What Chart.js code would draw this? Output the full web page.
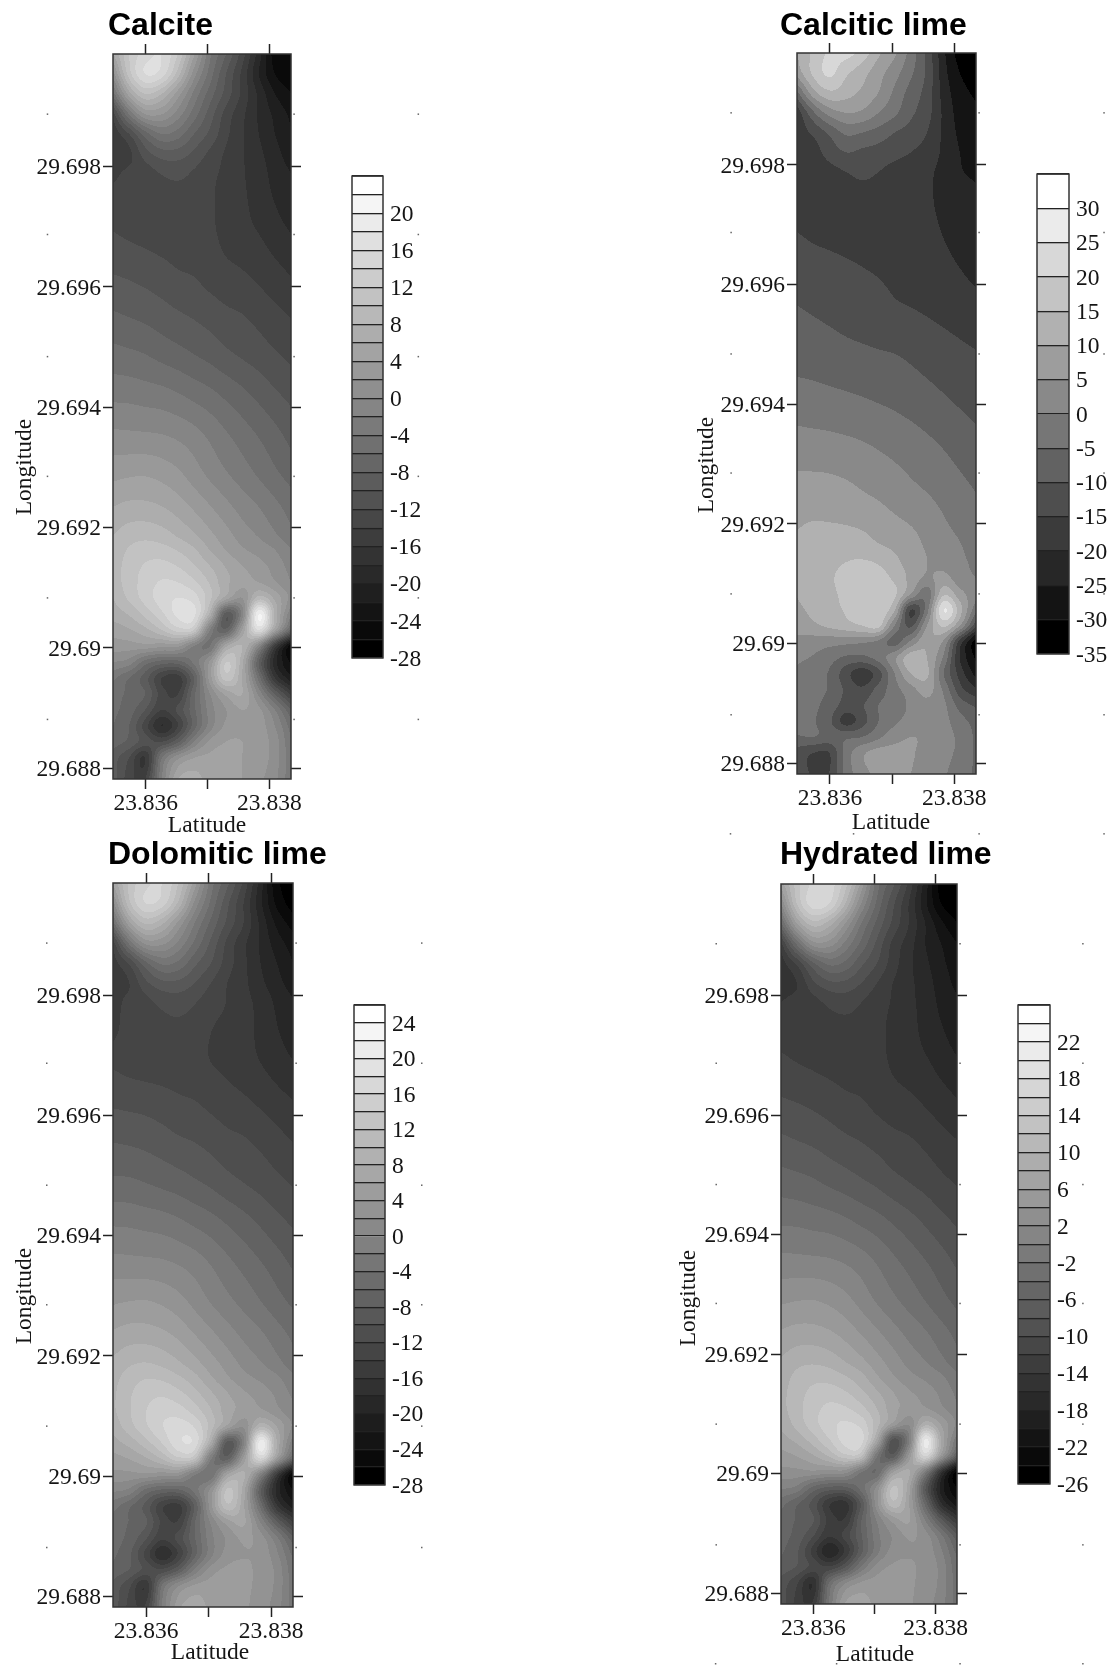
<!DOCTYPE html>
<html>
<head>
<meta charset="utf-8">
<title>Lime maps</title>
<script src="https://cdn.jsdelivr.net/npm/chart.js@4/dist/chart.umd.min.js"></script>
<style>
  html, body { margin: 0; background: #fff; }
  #page { position: relative; width: 1110px; height: 1671px; overflow: hidden; }
  canvas { position: absolute; }
</style>
</head>
<body>
<div id="page"></div>
<script>
const latTicks = [23.836, 23.837, 23.838];
const latTickLabels = ["23.836", "", "23.838"];
const lonTicks = [29.688, 29.69, 29.692, 29.694, 29.696, 29.698];
const lonTickLabels = ["29.688", "29.69", "29.692", "29.694", "29.696", "29.698"];

const dotLats = [23.83441, 23.8384, 23.84041];
const dotLons = [29.69887, 29.69687, 29.69484, 29.69285, 29.69083, 29.68881];
const bottomDotLats = [23.8344, 23.83638, 23.8384, 23.84041];
const bottomDotLon = 29.68682;

// sample columns and rows of the maps
const gridLats = [23.83547, 23.83573, 23.83599, 23.83626, 23.83652, 23.83678, 23.83704, 23.8373, 23.83756, 23.83783, 23.83809, 23.83835];
const gridLons = [29.69987, 29.69954, 29.69921, 29.69887, 29.69854, 29.69821, 29.69788, 29.69738, 29.69688, 29.69621, 29.69555,
  29.69488, 29.69422, 29.69355, 29.69289, 29.69239, 29.69189, 29.69163, 29.69136, 29.69109, 29.69083, 29.69056,
  29.6903, 29.69003, 29.68976, 29.6895, 29.68923, 29.68897, 29.6887, 29.68844, 29.68817, 29.68782];

const calciteLevels = [-28, -26, -24, -22, -20, -18, -16, -14, -12, -10, -8, -6, -4, -2, 0, 2, 4, 6, 8, 10, 12, 14, 16, 18, 20, 22, 24];
const calciteBarTicks = [-28, -24, -20, -16, -12, -8, -4, 0, 4, 8, 12, 16, 20];
const calciteGrid = [
  [6, 12, 15, 16, 12, 4.4, -3.5, -8, -13, -19, -25, -25.5],
  [1, 11, 16, 15, 9, 1, -5, -10, -14.5, -20, -24, -25.5],
  [-5, 5, 10, 8, 3, -2.5, -7, -10.8, -14.5, -18.5, -22, -24],
  [-13, -4, 2, 2, -1, -5, -9, -12.8, -15.5, -18.3, -20.5, -22.5],
  [-15.5, -12, -7, -4, -5, -8, -10.5, -13.5, -15.8, -18, -20, -21.8],
  [-15.5, -14.5, -11, -9, -9, -10.5, -12.5, -14.3, -15.8, -17.5, -19.3, -21],
  [-14.5, -13.5, -13, -11.9, -11.5, -12.3, -13.5, -14.5, -15.8, -17, -18.8, -20],
  [-13, -13, -13, -13, -13, -13, -13.7, -14.8, -15.6, -16.8, -18, -19.3],
  [-11.9, -12.3, -12.6, -12.9, -13.1, -13.3, -13.6, -14.6, -15.3, -16, -17, -18],
  [-10, -10.3, -10.7, -11.2, -11.8, -12.1, -12.8, -13.4, -13.8, -14.5, -15.3, -16.1],
  [-7.8, -8.2, -8.6, -9.2, -9.8, -10.3, -10.9, -11.6, -12, -12.7, -13.5, -14.2],
  [-5.3, -5.6, -6, -6.7, -7.3, -8, -8.7, -9.6, -10.3, -11, -11.8, -12.5],
  [-2.6, -2.7, -3, -3.3, -3.9, -4.7, -5.5, -6.5, -7.5, -8.6, -9.7, -10.6],
  [0.4, 0.3, 0.2, 0, -0.5, -1.3, -2.5, -3.8, -5, -6.2, -7.4, -8.7],
  [3.4, 3.7, 3.8, 3.3, 2.4, 1, -0.5, -1.8, -3, -4.3, -5.6, -6.8],
  [5.8, 6.3, 6.3, 5.8, 4.8, 3.4, 1.9, 0.4, -1, -2.2, -3.6, -5],
  [7.9, 9, 9.3, 8.8, 7.6, 6.2, 4.4, 2.7, 1, -0.3, -1.8, -3.5],
  [8.6, 10.2, 11, 10.8, 9.8, 8.3, 5.9, 3.9, 2.3, 1.2, 0, -1.9],
  [9, 10.8, 12.2, 12.7, 11.9, 10.2, 8, 5.8, 4, 2.8, 1.2, -0.8],
  [9, 10.9, 12.9, 14.2, 14, 12.4, 9.7, 6.5, 4.8, 4, 2.2, 0],
  [8, 10.4, 12.8, 15, 16, 15, 10.5, 5, 2, 9, 5.5, 1.2],
  [6.8, 8.2, 10.6, 13.5, 16.5, 16.5, 7, -9, -1, 20, 7.5, -2],
  [4.8, 5.8, 7.4, 10, 13, 12, -2, -7.5, 4, 16, 4.5, -7],
  [3, 3, 3.2, 2.6, 2.5, -2, -4, 5.5, 8, -1, -15, -25.5],
  [0, -1, -5, -7, -7, -3.5, 2.5, 12, 6.5, -8, -19, -24.5],
  [-3.5, -6, -9, -14, -15, -8, 3, 11, 6, -5, -16, -21.5],
  [-5, -6.5, -8, -13, -14, -6.5, 0, 4.5, 6, -0.5, -8, -14.5],
  [-5.5, -7, -10, -14, -11.5, -6.5, -1, 2, 4, 2.5, -2, -8],
  [-6, -8, -13, -18, -14, -7, -1, 2.5, 3.5, 3, 0, -5],
  [-7, -8.5, -11, -12, -8.5, -2, 2.5, 4, 4, 3, 1, -4],
  [-9, -12, -16, -4, 1.5, 4, 4.5, 4.5, 4, 3, 1, -3.5],
  [-9, -13, -14, -2, 6, 7, 5, 4.5, 4, 2.5, 0.5, -3.5]
];

const calciticLevels = [-35, -30, -25, -20, -15, -10, -5, 0, 5, 10, 15, 20, 25, 30, 35];
const calciticBarTicks = [-35, -30, -25, -20, -15, -10, -5, 0, 5, 10, 15, 20, 25, 30];
const calciticGrid = [
  [10, 16, 21, 22, 18, 11, 6, -2, -11, -24, -32, -33],
  [7, 16, 21, 16, 12, 7, 2, -4, -11, -23, -30, -33],
  [-6, 8, 14, 12, 9, 5, -1, -7, -12, -22, -28, -31],
  [-18, -6, 2, 5, 4, 0, -4, -9, -13, -21, -27, -29],
  [-18, -14, -9, -4, -5, -7, -10, -12, -15, -21, -26, -28],
  [-18, -17, -13, -10, -11, -12, -13.5, -15, -17, -21, -25, -27.5],
  [-17.5, -17.5, -16.5, -15, -14, -15, -16.5, -17.5, -19, -21.5, -24.5, -26],
  [-17, -17, -17, -17, -17, -17, -17.5, -18.2, -19.5, -20.7, -22, -23.5],
  [-15, -15.8, -16.3, -16.7, -17, -17.2, -17.5, -18, -19, -20.2, -21.5, -23],
  [-12.2, -12.8, -13.3, -14, -14.7, -15.3, -16, -16.8, -17.8, -18.7, -19.8, -21],
  [-9.6, -10.3, -11, -11.8, -12.5, -13.2, -14.2, -14.7, -15.4, -16.3, -17.3, -18.3],
  [-7, -7.5, -8.1, -8.8, -9.3, -9.8, -10.2, -11, -12, -13, -14, -14.9],
  [-3.7, -4, -4.5, -5, -5.6, -6.3, -7, -8, -9, -10.2, -11.5, -12.7],
  [0.6, 0.3, 0, -0.5, -1.1, -1.9, -2.9, -4, -5.2, -6.5, -8, -9.5],
  [5, 4.9, 4.7, 4.1, 3.2, 2, 0.8, -0.6, -1.9, -3.4, -5, -6.6],
  [7.5, 7.7, 7.5, 7, 6, 5, 3.5, 2, 0.7, -1, -2.8, -4.5],
  [10, 11, 11, 10.7, 10, 8.5, 7, 5.5, 3.5, 1, -0.8, -3],
  [10.5, 12, 13, 13, 12, 10.5, 9, 6.5, 4.5, 2.3, 0.3, -2],
  [10.7, 12.5, 14, 15, 15.5, 14.5, 11.5, 7.5, 5, 3.2, 1, -1],
  [10.6, 12.5, 14.5, 16, 17, 17, 14, 8.5, 4, 7, 2, 0],
  [10.2, 12, 14, 16, 17.5, 18, 16, 5, -3, 14, 7, 1.5],
  [9, 11, 13, 15.5, 17.5, 18.5, 10.5, -15, -2, 25, 12, -4],
  [7.5, 9, 11, 13, 15, 16.5, 0, -11, 5, 16, 5, -14],
  [3, 2.5, 2, 1.5, 0.8, -1, -7, 1, 9, 4, -17, -33],
  [1, -0.5, -3, -6, -6.5, -3, 4, 13, 10, -1, -20, -31],
  [-1, -3, -5.5, -13, -18, -12, 0, 10, 11, -5, -17, -27],
  [-2, -3.5, -5.5, -11, -14, -8, -2, 3, 7, -1, -13, -19],
  [-2.5, -4, -7, -12, -10.5, -5, -3, 1, 3.5, 1, -7, -11],
  [-3, -4.5, -9, -17, -12, -5, -1, 2, 3, 1.5, -3, -7],
  [-5.5, -5, -7, -6, -5, -1, 3, 5, 4, 1.5, -1, -6],
  [-12, -15, -15, -3, 4, 7, 7, 5.5, 3.5, 1, -1, -6],
  [-13, -15.5, -15, -3, 3, 6.5, 7, 5, 3, 0.5, -2, -6]
];

const dolomiticLevels = [-28, -26, -24, -22, -20, -18, -16, -14, -12, -10, -8, -6, -4, -2, 0, 2, 4, 6, 8, 10, 12, 14, 16, 18, 20, 22, 24, 26];
const dolomiticBarTicks = [-28, -24, -20, -16, -12, -8, -4, 0, 4, 8, 12, 16, 20, 24];
const dolomiticGrid = [
  [6.5, 12.5, 15.5, 16, 12, 5, -3, -7.5, -12.5, -19, -25.5, -27],
  [1.5, 11.5, 16, 15, 9.5, 1.5, -4.5, -9.5, -14, -19.5, -24.5, -27],
  [-4.5, 5.5, 10.5, 8.5, 3.5, -2, -6.5, -10.5, -14, -18.5, -22.5, -25],
  [-13, -3.5, 2.5, 2.5, -0.5, -4.5, -8.5, -12.5, -15.5, -18.3, -21, -23],
  [-15, -11.5, -6.5, -3.5, -4.5, -7.5, -10, -13, -15.5, -18, -20, -22],
  [-15.5, -14, -10.5, -8.5, -8.5, -10, -12, -14, -15.5, -17.5, -19.3, -21],
  [-15, -13.3, -12.6, -11.5, -11.1, -11.9, -13.1, -14.1, -15.4, -16.6, -18.4, -19.8],
  [-14.5, -13, -12.6, -12.6, -12.6, -13, -14, -14.6, -15.3, -16.5, -17.8, -19],
  [-12.4, -12.7, -12.9, -13, -13.1, -13.4, -14, -14.5, -15.2, -16, -17, -17.9],
  [-10.3, -10.5, -10.7, -11.1, -11.6, -11.9, -12.5, -13.1, -13.6, -14.3, -15.1, -15.9],
  [-8, -8.2, -8.5, -9, -9.6, -10, -10.6, -11.3, -11.7, -12.4, -13.2, -14],
  [-5.5, -5.6, -6, -6.5, -7, -7.7, -8.4, -9.3, -10, -10.7, -11.5, -12.2],
  [-2.3, -2.4, -2.7, -3, -3.6, -4.4, -5.2, -6.2, -7.2, -8.3, -9.4, -10.3],
  [0.7, 0.6, 0.5, 0.3, -0.2, -1, -2.2, -3.5, -4.7, -5.9, -7.1, -8.4],
  [3.8, 4.1, 4.2, 3.7, 2.8, 1.4, -0.1, -1.4, -2.6, -3.9, -5.2, -6.4],
  [6.2, 6.8, 6.8, 6.3, 5.3, 3.8, 2.3, 0.8, -0.6, -1.8, -3.2, -4.6],
  [8.4, 9.6, 10, 9.4, 8.2, 6.6, 4.8, 3.1, 1.4, 0.1, -1.4, -3.1],
  [9.2, 11, 11.9, 11.6, 10.4, 8.7, 6.3, 4.3, 2.7, 1.6, 0.4, -1.5],
  [9.6, 11.7, 13.2, 13.7, 12.7, 10.8, 8.4, 6.2, 4.4, 3.2, 1.6, -0.4],
  [9.6, 11.8, 13.9, 15.2, 14.9, 13, 10.1, 6.9, 5.2, 4.4, 2.6, 0.4],
  [8.6, 11.2, 13.6, 15.9, 17, 15.7, 10.9, 5.4, 2.4, 9.4, 5.9, 1.6],
  [7.2, 8.8, 11.2, 14.2, 17.5, 17.2, 7.4, -8.6, -0.6, 21, 7.9, -1.6],
  [5.2, 6.2, 7.8, 10.4, 13.6, 12.4, -1.6, -7.1, 4.4, 16.4, 4.9, -6.6],
  [3.4, 3.4, 3.6, 3, 2.9, -1.6, -3.6, 5.9, 8.4, -0.6, -14.6, -26],
  [0.4, -0.6, -4.6, -6.6, -6.6, -3.1, 2.9, 12.4, 6.9, -7.6, -18.6, -24],
  [-3.1, -5.6, -8.6, -13.6, -14.6, -7.6, 3.4, 11.4, 6.4, -4.6, -15.6, -21],
  [-4.6, -6.1, -7.6, -12.6, -13.6, -6.1, 0.4, 4.9, 6.4, -0.1, -7.6, -14.1],
  [-5.1, -6.6, -9.6, -13.6, -11.1, -6.1, -0.6, 2.4, 4.4, 2.9, -1.6, -7.6],
  [-5.6, -7.6, -12.6, -17.6, -13.6, -6.6, -0.6, 2.9, 3.9, 3.4, 0.4, -4.6],
  [-6.6, -8.1, -10.6, -11.6, -8.1, -1.6, 2.9, 4.4, 4.4, 3.4, 1.4, -3.6],
  [-8.6, -11.6, -15.6, -3.6, 1.9, 4.4, 4.9, 4.9, 4.4, 3.4, 1.4, -3.1],
  [-8.6, -12.6, -13.6, -1.6, 5.5, 7.4, 5.4, 4.9, 4.4, 2.9, 0.9, -3.1]
];

const hydratedLevels = [-26, -24, -22, -20, -18, -16, -14, -12, -10, -8, -6, -4, -2, 0, 2, 4, 6, 8, 10, 12, 14, 16, 18, 20, 22, 24, 26];
const hydratedBarTicks = [-26, -22, -18, -14, -10, -6, -2, 2, 6, 10, 14, 18, 22];
const hydratedGrid = [
  [7, 13, 16.5, 17, 13, 5.5, -3, -7.5, -12.5, -19, -25, -25.5],
  [2, 12, 17, 16, 10, 2, -4.5, -9.5, -14, -19.5, -24, -25.5],
  [-4.5, 6, 11, 9, 4, -2, -6.5, -10.5, -14, -18, -21.5, -24],
  [-12.5, -3.5, 3, 3, -0.5, -4.5, -8.5, -12.5, -15, -18, -20, -22],
  [-15, -11.5, -6.5, -3.5, -4.5, -7.5, -10, -13, -15.5, -17.5, -19.5, -21],
  [-15, -14, -10.5, -8.5, -8.5, -10, -12, -14, -15.5, -17, -19, -20.5],
  [-14, -13.2, -12.7, -11.6, -11.2, -12, -13.2, -14.2, -15.5, -16.7, -18.5, -19.7],
  [-12.7, -12.7, -12.7, -12.7, -12.7, -12.7, -13.4, -14.5, -15.3, -16.5, -17.7, -19],
  [-11.6, -12, -12.3, -12.6, -12.8, -13, -13.3, -14.3, -15, -15.7, -16.7, -17.7],
  [-9.7, -10, -10.4, -10.9, -11.5, -11.8, -12.5, -13.1, -13.5, -14.2, -15, -15.8],
  [-7.5, -7.9, -8.3, -8.9, -9.5, -10, -10.6, -11.3, -11.7, -12.4, -13.2, -13.9],
  [-5, -5.3, -5.7, -6.4, -7, -7.7, -8.4, -9.3, -10, -10.7, -11.5, -12.2],
  [-2.3, -2.4, -2.7, -3, -3.6, -4.4, -5.2, -6.2, -7.2, -8.3, -9.4, -10.3],
  [0.7, 0.6, 0.5, 0.3, -0.2, -1, -2.2, -3.5, -4.7, -5.9, -7.1, -8.4],
  [3.7, 4, 4.1, 3.6, 2.7, 1.3, -0.2, -1.5, -2.7, -4, -5.3, -6.5],
  [6.1, 6.6, 6.6, 6.1, 5.1, 3.7, 2.2, 0.7, -0.7, -1.9, -3.3, -4.7],
  [8.2, 9.3, 9.6, 9.1, 7.9, 6.5, 4.7, 3, 1.3, 0, -1.5, -3.2],
  [8.9, 10.5, 11.3, 11.1, 10.1, 8.6, 6.2, 4.2, 2.6, 1.5, 0.3, -1.6],
  [9.3, 11.1, 12.5, 13, 12.2, 10.5, 8.3, 6.1, 4.3, 3.1, 1.5, -0.5],
  [9.3, 11.2, 13.2, 14.5, 14.3, 12.7, 10, 6.8, 5.1, 4.3, 2.5, 0.3],
  [8.3, 10.7, 13.1, 15.3, 16.3, 15.3, 10.8, 5.3, 2.3, 9.3, 5.8, 1.5],
  [7.1, 8.5, 10.9, 13.8, 16.8, 16.8, 7.3, -8.7, -0.7, 20.3, 7.8, -1.7],
  [5.1, 6.1, 7.7, 10.3, 13.3, 12.3, -1.7, -7.2, 4.3, 16.3, 4.8, -6.7],
  [3.3, 3.3, 3.5, 2.9, 2.8, -1.7, -3.7, 5.8, 8.3, -0.7, -14.7, -25.2],
  [0.3, -0.7, -4.7, -6.7, -6.7, -3.2, 2.8, 12.3, 6.8, -7.7, -18.7, -24.2],
  [-3.2, -5.7, -8.7, -13.7, -14.7, -7.7, 3.3, 11.3, 6.3, -4.7, -15.7, -21.2],
  [-4.7, -6.2, -7.7, -12.7, -13.7, -6.2, 0.3, 4.8, 6.3, -0.2, -7.7, -14.2],
  [-5.2, -6.7, -9.7, -13.7, -11.2, -6.2, -0.7, 2.3, 4.3, 2.8, -1.7, -7.7],
  [-5.7, -7.7, -12.7, -17.7, -13.7, -6.7, -0.7, 2.8, 3.8, 3.3, 0.3, -4.7],
  [-6.7, -8.2, -10.7, -11.7, -8.2, -1.7, 2.8, 4.3, 4.3, 3.3, 1.3, -3.7],
  [-8.7, -11.7, -15.7, -3.7, 1.8, 4.3, 4.8, 4.8, 4.3, 3.3, 1.3, -3.2],
  [-8.7, -12.7, -13.7, -1.7, 6.3, 7.3, 5.3, 4.8, 4.3, 2.8, 0.8, -3.2]
];

const LAT_MIN = 23.83547, LAT_MAX = 23.83835;
const LON_MIN = 29.68782, LON_MAX = 29.69987;
const SERIF = "'Liberation Serif', 'Times New Roman', serif";
const SANS = "'Liberation Sans', Arial, sans-serif";
const INK = "#151515";

// page positions of each panel
const panels = [
  { name: "Calcite", grid: calciteGrid, levels: calciteLevels, barTicks: calciteBarTicks,
    canvas: [0, 0, 440, 840], frame: [113, 291, 54, 779], bar: [352, 383, 175, 659],
    titlePos: [108, 35], latPos: [207, 826], lonPos: [25, 467], bottomDots: false },
  { name: "Calcitic lime", grid: calciticGrid, levels: calciticLevels, barTicks: calciticBarTicks,
    canvas: [680, 0, 430, 840], frame: [797, 976, 53, 774], bar: [1037, 1069, 173, 655],
    titlePos: [780, 35], latPos: [891, 823], lonPos: [707, 465], bottomDots: true },
  { name: "Dolomitic lime", grid: dolomiticGrid, levels: dolomiticLevels, barTicks: dolomiticBarTicks,
    canvas: [0, 840, 440, 831], frame: [113, 293, 883, 1607], bar: [354, 385, 1004, 1486],
    titlePos: [108, 864], latPos: [210, 1653], lonPos: [25, 1296], bottomDots: false },
  { name: "Hydrated lime", grid: hydratedGrid, levels: hydratedLevels, barTicks: hydratedBarTicks,
    canvas: [670, 840, 440, 831], frame: [781, 957, 884, 1604], bar: [1018, 1050, 1004, 1485],
    titlePos: [780, 864], latPos: [875, 1655], lonPos: [689, 1298], bottomDots: true }
];

function bandGray(i, n) {
  const g = Math.round((i / (n - 1)) * 255);
  return [g, g, g];
}

function tangents(ts, fs) {
  const n = ts.length;
  const m = new Array(n);
  for (let i = 0; i < n; i++) {
    const a = Math.max(i - 1, 0);
    const b = Math.min(i + 1, n - 1);
    m[i] = (fs[b] - fs[a]) / (ts[b] - ts[a]);
  }
  return m;
}

function hermite(ts, fs, ms, t) {
  let k = 0;
  while (k < ts.length - 2 && t > ts[k + 1]) k++;
  const h = ts[k + 1] - ts[k];
  const s = Math.min(Math.max((t - ts[k]) / h, 0), 1);
  const s2 = s * s, s3 = s2 * s;
  return (2 * s3 - 3 * s2 + 1) * fs[k] + (s3 - 2 * s2 + s) * h * ms[k] +
    (-2 * s3 + 3 * s2) * fs[k + 1] + (s3 - s2) * h * ms[k + 1];
}

// fills the plot area with contour bands, going through the chart's own scales
const contourFill = {
  id: "contourFill",
  beforeDatasetsDraw(chart) {
    const ds = chart.data.datasets[0];
    const area = chart.chartArea;
    const x = chart.scales.x, y = chart.scales.y;
    const w = Math.round(area.right - area.left);
    const h = Math.round(area.bottom - area.top);
    const off = document.createElement("canvas");
    off.width = w;
    off.height = h;
    const octx = off.getContext("2d");
    const img = octx.createImageData(w, h);

    const rowT = gridLons.map((v) => -v);
    const columns = gridLats.map((_, j) => ds.grid.map((row) => row[j]));
    const columnM = columns.map((c) => tangents(rowT, c));
    const n = ds.levels.length - 1;

    for (let py = 0; py < h; py++) {
      const lon = y.getValueForPixel(area.top + py + 0.5);
      const across = columns.map((c, j) => hermite(rowT, c, columnM[j], -lon));
      const acrossM = tangents(gridLats, across);
      for (let px = 0; px < w; px++) {
        const lat = x.getValueForPixel(area.left + px + 0.5);
        const v = hermite(gridLats, across, acrossM, lat);
        let band = 0;
        while (band < n - 1 && v >= ds.levels[band + 1]) band++;
        const c = bandGray(band, n);
        const o = (py * w + px) * 4;
        img.data[o] = c[0];
        img.data[o + 1] = c[1];
        img.data[o + 2] = c[2];
        img.data[o + 3] = 255;
      }
    }
    octx.putImageData(img, 0, 0);
    chart.ctx.drawImage(off, area.left, area.top);
  }
};

const plotFrame = {
  id: "plotFrame",
  afterDraw(chart) {
    const ctx = chart.ctx;
    const a = chart.chartArea;
    ctx.save();
    ctx.strokeStyle = "#333";
    ctx.lineWidth = 1.5;
    ctx.strokeRect(a.left, a.top, a.right - a.left, a.bottom - a.top);
    ctx.restore();
  }
};

// the stray dots round each map and the free standing labels
const panelMarks = {
  id: "panelMarks",
  afterDraw(chart, args, opts) {
    const ctx = chart.ctx;
    const x = chart.scales.x, y = chart.scales.y;
    const p = opts.panel;
    const ox = p.canvas[0], oy = p.canvas[1];
    ctx.save();
    ctx.fillStyle = "#666";
    dotLats.forEach((lat) => {
      dotLons.forEach((lon) => {
        ctx.fillRect(x.getPixelForValue(lat) - 0.75, y.getPixelForValue(lon) - 0.75, 1.5, 1.5);
      });
    });
    if (p.bottomDots) {
      bottomDotLats.forEach((lat) => {
        ctx.fillRect(x.getPixelForValue(lat) - 0.75, y.getPixelForValue(bottomDotLon) - 0.75, 1.5, 1.5);
      });
    }
    ctx.fillStyle = "#000";
    ctx.textBaseline = "alphabetic";
    ctx.textAlign = "left";
    ctx.font = "bold 32px " + SANS;
    ctx.fillText(p.name, p.titlePos[0] - ox, p.titlePos[1] - oy);

    ctx.fillStyle = INK;
    ctx.font = "23.5px " + SERIF;
    ctx.textAlign = "center";
    ctx.textBaseline = "middle";
    ctx.fillText("Latitude", p.latPos[0] - ox, p.latPos[1] - oy);
    ctx.translate(p.lonPos[0] - ox, p.lonPos[1] - oy);
    ctx.rotate(-Math.PI / 2);
    ctx.fillText("Longitude", 0, 0);
    ctx.restore();
  }
};

function fixedTicks(values) {
  return (scale) => { scale.ticks = values.map((value) => ({ value })); };
}

function axis(position, min, max, values, labels, size, labelPad) {
  const vertical = position === "left" || position === "right";
  return {
    type: "linear",
    position,
    min,
    max,
    bounds: "data",
    afterBuildTicks: fixedTicks(values),
    afterFit: (scale) => {
      if (vertical) scale.width = size;
      else scale.height = size;
    },
    border: { display: false },
    grid: { drawOnChartArea: false, drawTicks: true, tickLength: 10, tickColor: "#222", tickWidth: 1.5 },
    ticks: {
      autoSkip: false,
      maxRotation: 0,
      minRotation: 0,
      padding: labelPad,
      labelOffset: vertical ? 1.5 : 0,
      color: INK,
      font: { family: SERIF, size: 23.5 },
      callback: labels ? (v, i) => labels[i] : () => ""
    }
  };
}

function addCanvas(left, top, width, height) {
  const c = document.createElement("canvas");
  c.width = width;
  c.height = height;
  c.style.left = left + "px";
  c.style.top = top + "px";
  c.style.width = width + "px";
  c.style.height = height + "px";
  document.getElementById("page").appendChild(c);
  return c;
}

function drawMap(p) {
  const [cl, ct, cw, ch] = p.canvas;
  const [fl, fr, ft, fb] = p.frame;
  const points = [];
  p.grid.forEach((row, i) => row.forEach((v, j) => points.push({ x: gridLats[j], y: gridLons[i], v })));

  new Chart(addCanvas(cl, ct, cw, ch), {
    type: "scatter",
    data: { datasets: [{ label: p.name, data: points, grid: p.grid, levels: p.levels, pointRadius: 0 }] },
    options: {
      responsive: false,
      animation: false,
      events: [],
      layout: { padding: 0 },
      plugins: { legend: { display: false }, tooltip: { enabled: false }, panelMarks: { panel: p } },
      scales: {
        x: axis("bottom", LAT_MIN, LAT_MAX, latTicks, latTickLabels, ct + ch - fb, 1),
        xTop: axis("top", LAT_MIN, LAT_MAX, latTicks, null, ft - ct, 0),
        y: axis("left", LON_MIN, LON_MAX, lonTicks, lonTickLabels, fl - cl, 2),
        yRight: axis("right", LON_MIN, LON_MAX, lonTicks, null, cl + cw - fr, 0)
      }
    },
    plugins: [contourFill, plotFrame, panelMarks]
  });
}

function drawBar(p) {
  const [bl, br, bt, bb] = p.bar;
  const pad = 20, labelRoom = 70;
  const n = p.levels.length - 1;
  const datasets = [];
  for (let i = 0; i < n; i++) {
    const g = bandGray(i, n);
    datasets.push({
      data: [[p.levels[i], p.levels[i + 1]]],
      backgroundColor: `rgb(${g[0]},${g[1]},${g[2]})`,
      borderWidth: 0,
      grouped: false,
      barPercentage: 1,
      categoryPercentage: 1
    });
  }
  new Chart(addCanvas(bl - 2, bt - pad, br - bl + 2 + labelRoom, bb - bt + pad * 2), {
    type: "bar",
    data: { labels: [""], datasets },
    options: {
      responsive: false,
      animation: false,
      events: [],
      layout: { padding: { left: 2, top: pad, bottom: pad } },
      plugins: { legend: { display: false }, tooltip: { enabled: false } },
      scales: {
        x: { display: false },
        y: {
          type: "linear",
          position: "right",
          min: p.levels[0],
          max: p.levels[n],
          bounds: "data",
          afterBuildTicks: fixedTicks(p.levels),
          afterFit: (scale) => { scale.width = labelRoom; },
          border: { display: false },
          // band edges are the grid lines, drawn on top of the bars
          grid: { drawOnChartArea: true, drawTicks: false, z: 1, color: "#222", lineWidth: 1.3 },
          ticks: {
            autoSkip: false,
            padding: 7,
            labelOffset: 1.5,
            color: INK,
            font: { family: SERIF, size: 23.5 },
            callback: (v) => (p.barTicks.includes(v) ? String(v) : "")
          }
        }
      }
    },
    plugins: [plotFrame]
  });
}

panels.forEach((p) => {
  drawMap(p);
  drawBar(p);
});
</script>
</body>
</html>
